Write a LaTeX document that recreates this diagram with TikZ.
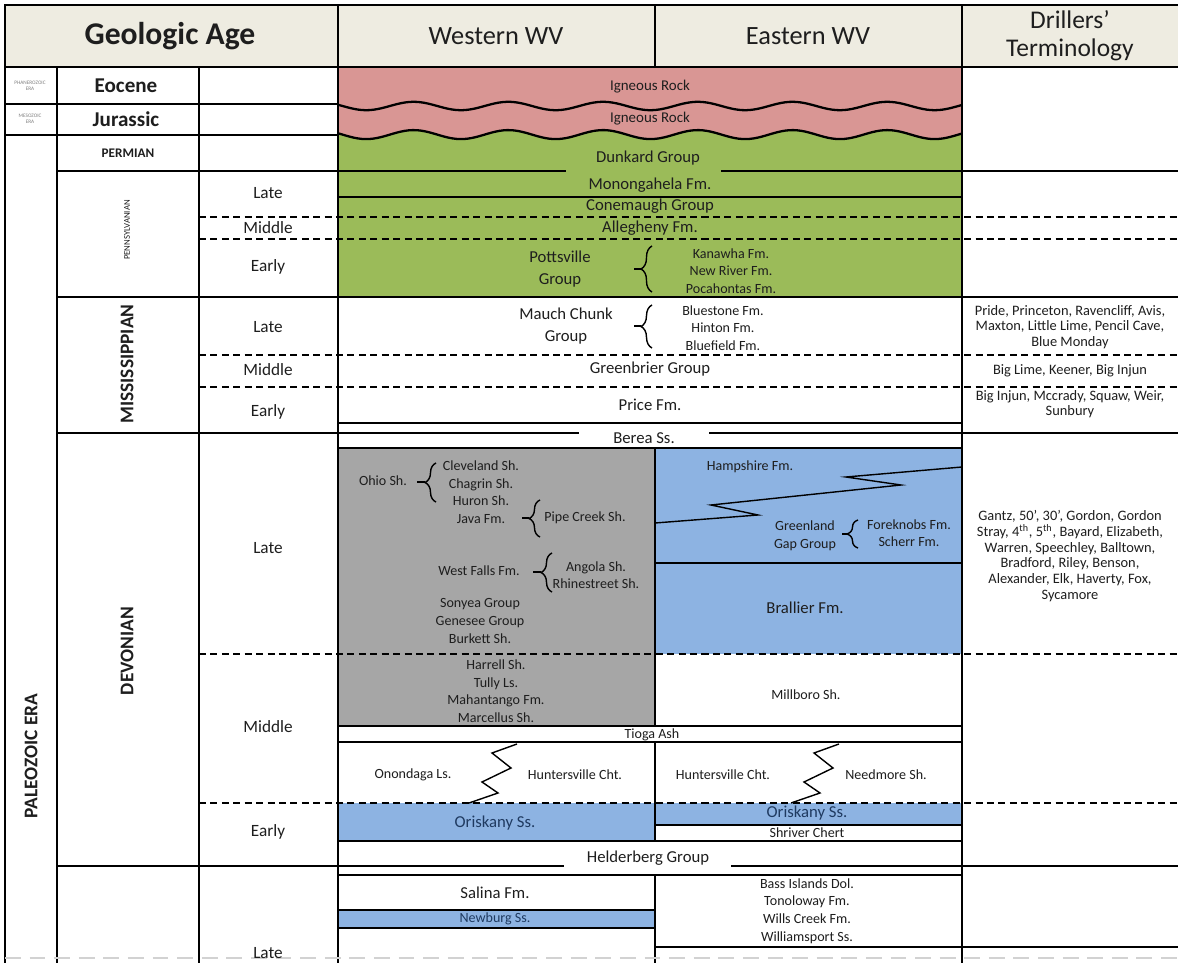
\documentclass[tikz,border=0pt]{standalone}
\usepackage{fontspec}
\setmainfont{Carlito}
\usetikzlibrary{decorations.pathreplacing}

\definecolor{hdrbg}{HTML}{EEECE1}
\definecolor{igneous}{HTML}{D99694}
\definecolor{coal}{HTML}{9BBB59}
\definecolor{shale}{HTML}{A6A6A6}
\definecolor{sand}{HTML}{8DB3E2}
\definecolor{ink}{HTML}{1E1E1E}
\definecolor{navy}{HTML}{1F3A60}

\tikzset{
  pcell/.style={inner sep=0pt, text=ink, align=center},
  hdr/.style={pcell, font=\fontsize{15}{16}\selectfont},
  period/.style={pcell, font=\fontsize{12}{13}\selectfont\bfseries},
  epoch/.style={pcell, font=\fontsize{9.8}{11}\selectfont},
  unit/.style={pcell, font=\fontsize{9.5}{12.5}\selectfont},
  small/.style={pcell, font=\fontsize{8}{10}\selectfont},
  drill/.style={pcell, font=\fontsize{8.2}{8.9}\selectfont},
  frame/.style={line width=1.6pt},
  rule/.style={line width=0.8pt},
  epochline/.style={line width=0.8pt, dash pattern=on 4pt off 2.5pt},
  wave/.style={line width=1.3pt},
  grp/.style={line width=0.8pt, decorate, decoration={brace, amplitude=0.22cm}},
}

\begin{document}
\begin{tikzpicture}[x=0.02cm, y=-0.02cm]
	\useasboundingbox (0,0) rectangle (1178,963);
	% Fills:
	\fill[white] (0,0) rectangle (1178,963);
	\fill[hdrbg] (5,5) rectangle (1178,67);
	\fill[igneous] (338,67) rectangle (962,142);
	\fill[coal] plot[domain=338:962, samples=160] (\x,{134.6-4.5*cos(3.8*(\x-413.6))}) -- (962,297) -- (338,297) -- cycle;
	\fill[shale] (338,448) rectangle (655,726);
	\fill[sand] (655,448) rectangle (962,654);
	\fill[sand] (338,803) rectangle (655,841);
	\fill[sand] (655,803) rectangle (962,825);
	\fill[sand] (338,910) rectangle (655,928);
	% Unconformities:
	\draw[wave] plot[domain=338:962, samples=160] (\x,{106-4.2*cos(3.8*(\x-413.6))});
	\draw[wave] plot[domain=338:962, samples=160] (\x,{134.6-4.5*cos(3.8*(\x-413.6))});
	% Frame and columns:
	\draw[frame] (1178,5) -- (5,5) -- (5,963);
	\draw[frame] (5,67) -- (1178,67);
	\draw[frame] (57,67) -- (57,963);
	\draw[frame] (199,67) -- (199,963);
	\draw[frame] (338,5) -- (338,963);
	\draw[frame] (962,5) -- (962,963);
	\draw[frame] (655,5) -- (655,67);
	\draw[frame] (5,104) -- (338,104);
	\draw[frame] (5,135) -- (338,135);
	\draw[frame] (57,171) -- (566,171) (721,171) -- (1178,171);
	\draw[frame] (57,297) -- (1178,297);
	\draw[frame] (57,433) -- (579,433) (709,433) -- (1178,433);
	\draw[frame] (57,866) -- (564,866) (731,866) -- (1178,866);
	% Epoch boundaries:
	\foreach \yy in {217,239,355,387,654,803}
		\draw[epochline] (199,\yy) -- (1178,\yy);
	% Formation contacts:
	\foreach \yy in {197,423,448,726,742,841,875}
		\draw[rule] (338,\yy) -- (962,\yy);
	\draw[rule] (655,563) -- (962,563);
	\draw[rule] (655,825) -- (962,825);
	\draw[rule] (338,910) -- (655,910) (338,928) -- (655,928);
	\draw[rule] (655,947) -- (1178,947);
	\draw[rule] (655,448) -- (655,726) (655,742) -- (655,841) (655,875) -- (655,963);
	\draw[line width=1.5pt, gray!35, dash pattern=on 9pt off 5pt] (5,958) -- (1178,958);
	% Facies changes:
	\draw[rule] (655,523) -- (758,515) -- (711,505) -- (901,485) -- (846,477) -- (962,467);
	\draw[rule] (517,744) -- (492,753) -- (511,768) -- (482,782) -- (498,793) -- (469,803);
	\draw[rule] (839,744) -- (814,753) -- (833,768) -- (804,782) -- (820,793) -- (791,803);
	% Groupings:
	\draw[grp] (652,292) -- (652,246);
	\draw[rule] (641,269) -- (634,269);
	\draw[grp] (652,348) -- (652,305);
	\draw[rule] (641,326) -- (634,326);
	\draw[grp] (436,502) -- (436,463);
	\draw[rule] (425,482) -- (417,482);
	\draw[grp] (540,537) -- (540,500);
	\draw[rule] (529,518) -- (522,518);
	\draw[grp] (552,592) -- (552,553);
	\draw[rule] (541,572) -- (533,572);
	\draw[grp] (858,548) -- (858,520);
	\draw[rule] (847,534) -- (842,534);

	% Headers:
	\node[hdr, font=\fontsize{18}{20}\selectfont\bfseries] (geoage) at (170,36) {Geologic Age};
	\node[hdr] (western) at (496,36) {Western WV};
	\node[hdr] (eastern) at (808,36) {Eastern WV};
	\node[hdr, font=\fontsize{14.5}{16}\selectfont] (drillers) at (1070,36) {Drillers’\\Terminology};
	% Eras and periods:
	\node[pcell, text=gray, font=\fontsize{3}{3.6}\selectfont] (phanero) at (30,86) {PHANEROZOIC\\ERA};
	\node[pcell, text=gray, font=\fontsize{3}{3.6}\selectfont] (mesozoic) at (30,119) {MESOZOIC\\ERA};
	\node[period, rotate=90, font=\fontsize{11}{12}\selectfont\bfseries] (paleozoic) at (31,756) {PALEOZOIC ERA};
	\node[period] (eocene) at (126,86) {Eocene};
	\node[period] (jurassic) at (126,119) {Jurassic};
	\node[period, font=\fontsize{7.5}{8}\selectfont\bfseries] (permian) at (128,153) {PERMIAN};
	\node[period, rotate=90, font=\fontsize{5}{6}\selectfont] (penn) at (127,230) {PENNSYLVANIAN};
	\node[period, rotate=90, font=\fontsize{11}{12}\selectfont\bfseries] (miss) at (127,364) {MISSISSIPPIAN};
	\node[period, rotate=90, font=\fontsize{11}{12}\selectfont\bfseries] (devonian) at (127,651) {DEVONIAN};
	% Epochs:
	\node[epoch] (pennL) at (268,193) {Late};
	\node[epoch] (pennM) at (268,228) {Middle};
	\node[epoch] (pennE) at (268,267) {Early};
	\node[epoch] (missL) at (268,327) {Late};
	\node[epoch] (missM) at (268,370) {Middle};
	\node[epoch] (missE) at (268,412) {Early};
	\node[epoch] (devL) at (268,548) {Late};
	\node[epoch] (devM) at (268,727) {Middle};
	\node[epoch] (devE) at (268,832) {Early};
	\node[epoch] (silL) at (268,953) {Late};

	% Western and Eastern WV:
	\node[small, font=\fontsize{8.5}{10}\selectfont] (ign1) at (650,87) {Igneous Rock};
	\node[small, font=\fontsize{8.5}{10}\selectfont] (ign2) at (650,119) {Igneous Rock};
	\node[unit] (dunkard) at (648,158) {Dunkard Group};
	\node[unit] (monon) at (650,185) {Monongahela Fm.};
	\node[unit] (conem) at (650,206) {Conemaugh Group};
	\node[unit] (allegh) at (650,228) {Allegheny Fm.};
	\node[unit] (potts) at (560,269) {Pottsville\\Group};
	\node[small] (pottsfm) at (731,271) {Kanawha Fm.\\New River Fm.\\Pocahontas Fm.};
	\node[unit] (mauch) at (566,326) {Mauch Chunk\\Group};
	\node[small] (mauchfm) at (723,328) {Bluestone Fm.\\Hinton Fm.\\Bluefield Fm.};
	\node[unit] (greenbr) at (650,369) {Greenbrier Group};
	\node[unit] (price) at (650,405) {Price Fm.};
	\node[unit] (berea) at (644,438) {Berea Ss.};
	\node[small] (ohio) at (383,481) {Ohio Sh.};
	\node[small] (ohiofm) at (481,492) {Cleveland Sh.\\Chagrin Sh.\\Huron Sh.\\Java Fm.};
	\node[small] (pipe) at (585,518) {Pipe Creek Sh.};
	\node[small] (westf) at (479,571) {West Falls Fm.};
	\node[small] (westffm) at (596,575) {Angola Sh.\\Rhinestreet Sh.};
	\node[small] (sonyea) at (480,621) {Sonyea Group\\Genesee Group\\Burkett Sh.};
	\node[small] (harrell) at (496,691) {Harrell Sh.\\Tully Ls.\\Mahantango Fm.\\Marcellus Sh.};
	\node[small] (hamp) at (750,467) {Hampshire Fm.};
	\node[small] (greenl) at (805,536) {Greenland\\Gap Group};
	\node[small] (greenlfm) at (909,533) {Foreknobs Fm.\\Scherr Fm.};
	\node[unit] (brallier) at (805,608) {Brallier Fm.};
	\node[small] (millboro) at (806,695) {Millboro Sh.};
	\node[small] (tioga) at (652,735) {Tioga Ash};
	\node[small] (onond) at (413,775) {Onondaga Ls.};
	\node[small] (huntW) at (575,775) {Huntersville Cht.};
	\node[small] (huntE) at (723,775) {Huntersville Cht.};
	\node[small] (needm) at (886,775) {Needmore Sh.};
	\node[unit, text=navy] (oriskW) at (495,823) {Oriskany Ss.};
	\node[unit, text=navy] (oriskE) at (807,813) {Oriskany Ss.};
	\node[small] (shriver) at (807,833) {Shriver Chert};
	\node[unit] (helder) at (648,858) {Helderberg Group};
	\node[unit] (salina) at (495,893) {Salina Fm.};
	\node[small, text=navy] (newburg) at (495,919) {Newburg Ss.};
	\node[small] (bassis) at (807,911) {Bass Islands Dol.\\Tonoloway Fm.\\Wills Creek Fm.\\Williamsport Ss.};

	% Drillers' terminology:
	\node[drill] (drMissL) at (1070,327) {Pride, Princeton, Ravencliff, Avis,\\Maxton, Little Lime, Pencil Cave,\\Blue Monday};
	\node[drill] (drMissM) at (1070,371) {Big Lime, Keener, Big Injun};
	\node[drill] (drMissE) at (1070,404) {Big Injun, Mccrady, Squaw, Weir,\\Sunbury};
	\node[drill] (drDevL) at (1070,556) {Gantz, 50’, 30’, Gordon, Gordon\\Stray, 4\textsuperscript{th}, 5\textsuperscript{th}, Bayard, Elizabeth,\\Warren, Speechley, Balltown,\\Bradford, Riley, Benson,\\Alexander, Elk, Haverty, Fox,\\Sycamore};
\end{tikzpicture}
\end{document}
